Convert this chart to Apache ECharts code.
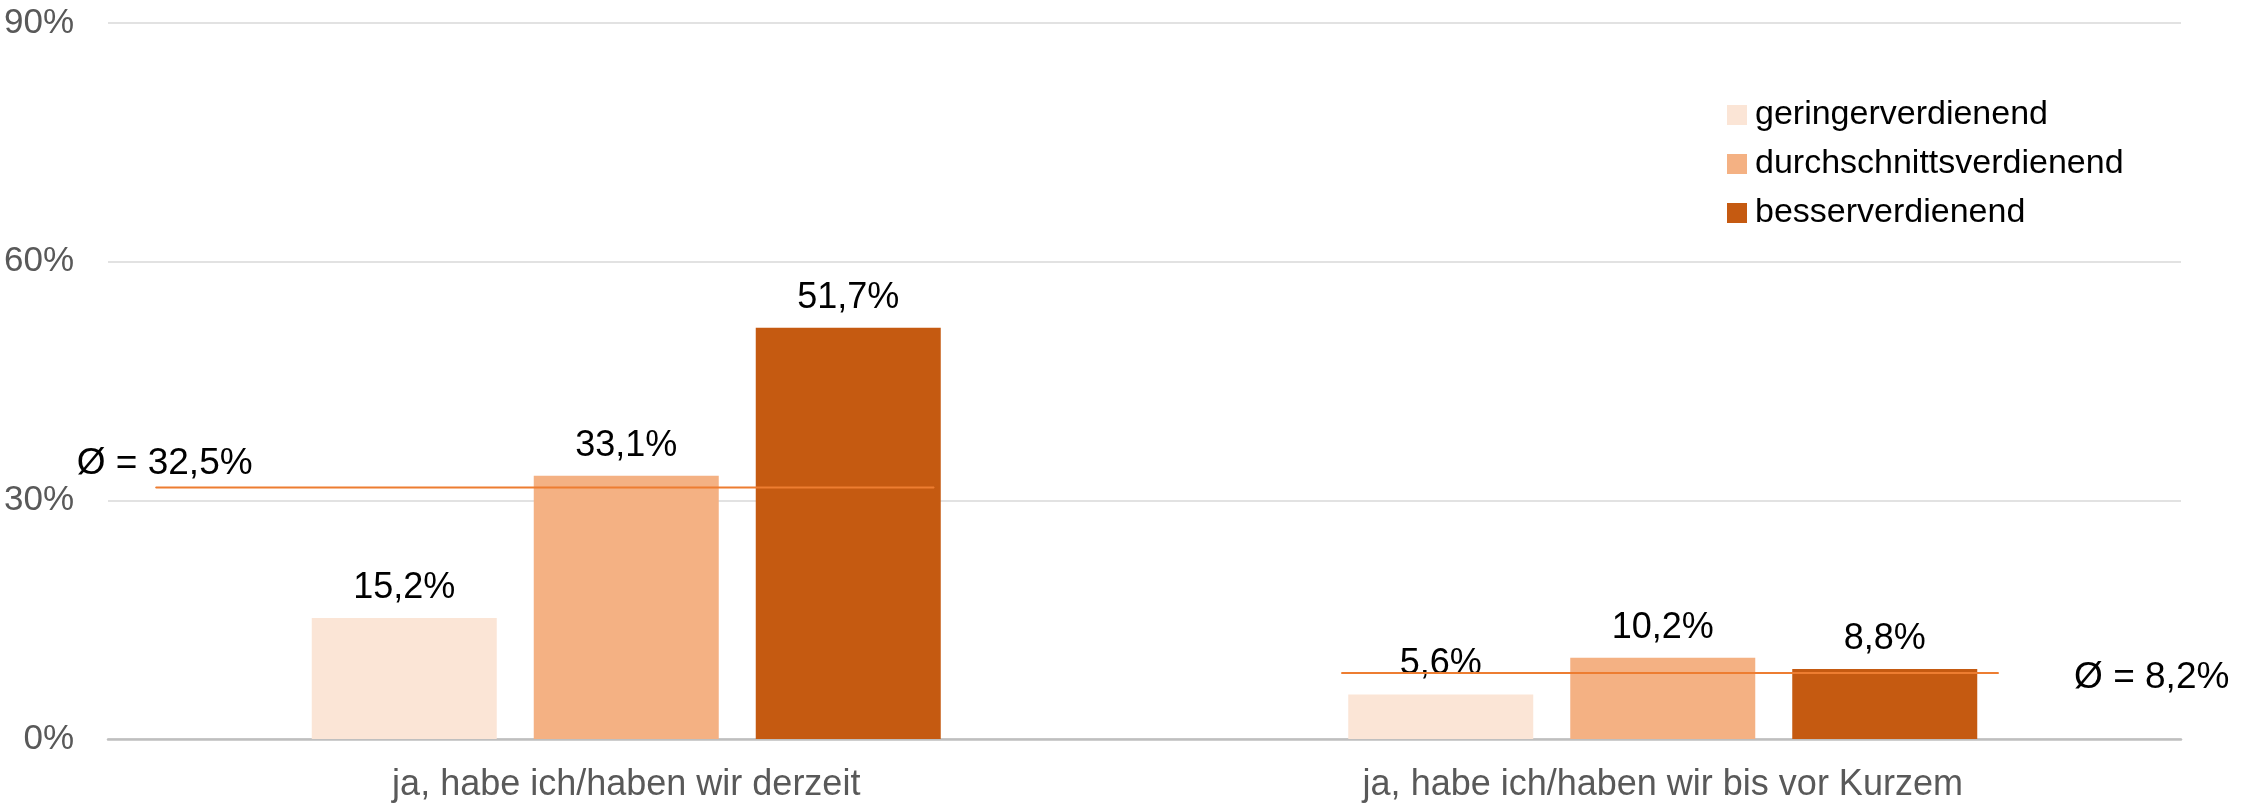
<!DOCTYPE html>
<html>
<head>
<meta charset="utf-8">
<script src="https://cdn.jsdelivr.net/npm/echarts@6/dist/echarts.min.js"></script>
<style>
html,body{margin:0;padding:0;background:#fff;}
#c{width:2257px;height:803px;}
</style>
</head>
<body>
<div id="c"></div>
<script>
const categories = ['ja, habe ich/haben wir derzeit', 'ja, habe ich/haben wir bis vor Kurzem'];
const seriesNames = ['geringerverdienend', 'durchschnittsverdienend', 'besserverdienend'];
const gering = [15.2, 5.6];
const durchschnitt = [33.1, 10.2];
const besser = [51.7, 8.8];
const yTicks = [0, 30, 60, 90];
const avgLabels = ['Ø = 32,5%', 'Ø = 8,2%'];
const avgLineValues = [31.6, 8.3];
// start / end of each average line, in category units (0..2 across the plot)
const avgLineSpan = [[0.046, 0.797], [1.19, 1.824]];

const NARROW = "'Liberation Sans Narrow', 'Arial Narrow', 'Liberation Sans', sans-serif";
const REG = "'Liberation Sans', Arial, sans-serif";
const colors = ['#FBE5D6', '#F4B183', '#C55A11'];
const fmt = v => v.toFixed(1).replace('.', ',') + '%';

const barSeries = [gering, durchschnitt, besser].map((vals, i) => ({
  name: seriesNames[i],
  type: 'bar',
  data: vals,
  barWidth: 185,
  barGap: '20%',
  itemStyle: { color: colors[i] },
  label: {
    show: true, position: 'top', distance: 12,
    formatter: p => fmt(p.value),
    fontFamily: NARROW, fontSize: 36, color: '#000'
  },
  z: 2
}));

const lineSeries = avgLineSpan.map((span, i) => ({
  type: 'line',
  xAxisIndex: 1,
  symbol: 'circle',
  symbolSize: 1,
  showSymbol: true,
  lineStyle: { color: '#ED7D31', width: 2 },
  itemStyle: { color: '#ED7D31' },
  z: 5,
  data: [
    { value: [span[0], avgLineValues[i]],
      label: i === 0 ? { show: true, position: 'top', distance: 5, offset: [9, 0],
        formatter: avgLabels[i], fontFamily: REG, fontSize: 37, color: '#000' } : { show: false } },
    { value: [span[1], avgLineValues[i]],
      label: i === 1 ? { show: true, position: 'right', distance: 75, offset: [0, 5],
        formatter: avgLabels[i], fontFamily: REG, fontSize: 37, color: '#000' } : { show: false } }
  ]
}));

const chart = echarts.init(document.getElementById('c'));
chart.setOption({
  animation: false,
  backgroundColor: '#fff',
  grid: { left: 108, right: 76, top: 23, bottom: 63.5, containLabel: false },
  legend: {
    data: seriesNames,
    orient: 'vertical',
    left: 1722, top: 93,
    icon: 'rect', itemWidth: 20, itemHeight: 20, itemGap: 15,
    textStyle: { fontFamily: NARROW, fontSize: 34, color: '#000', padding: [0, 0, 0, 3] }
  },
  xAxis: [{
    type: 'category',
    data: categories,
    axisLine: { lineStyle: { color: '#BFBFBF', width: 2.5 } },
    axisTick: { show: false },
    axisLabel: { fontFamily: NARROW, fontSize: 36, color: '#595959', margin: 28 }
  }, {
    type: 'value', min: 0, max: 2, show: false
  }],
  yAxis: {
    type: 'value', min: yTicks[0], max: yTicks[yTicks.length - 1], interval: yTicks[1] - yTicks[0],
    axisLine: { show: false }, axisTick: { show: false },
    splitLine: { lineStyle: { color: '#D9D9D9', width: 1.5 } },
    axisLabel: { formatter: '{value}%', fontFamily: NARROW, fontSize: 35, color: '#595959', margin: 34 }
  },
  series: [...barSeries, ...lineSeries]
});
</script>
</body>
</html>
